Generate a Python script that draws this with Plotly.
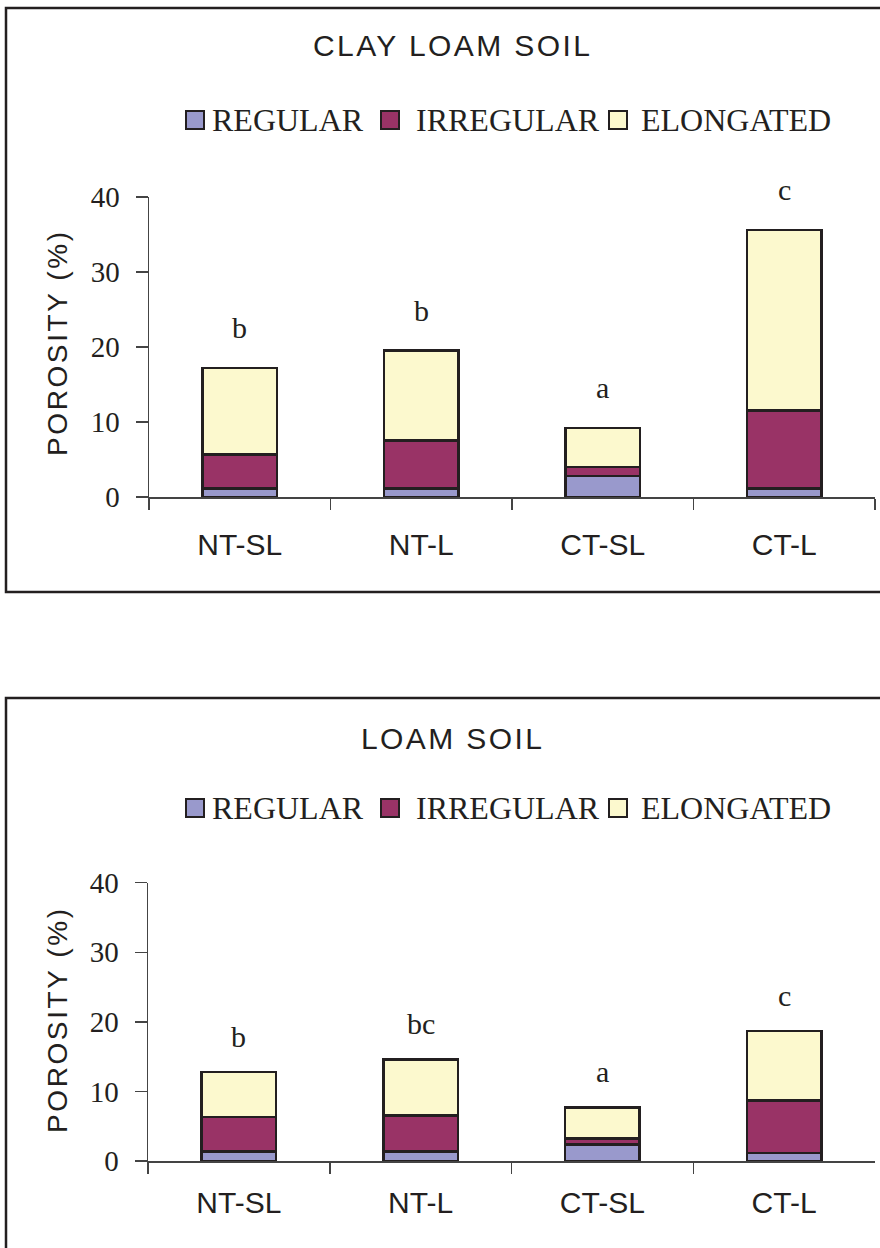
import plotly.graph_objects as go

W, H = 880, 1248

categories = ["NT-SL", "NT-L", "CT-SL", "CT-L"]
series_names = ["REGULAR", "IRREGULAR", "ELONGATED"]
series_colors = ["#9999CC", "#993366", "#FCF9CE"]

clay_regular = [1.1, 1.1, 2.8, 1.1]
clay_irregular = [4.6, 6.4, 1.2, 10.4]
clay_elongated = [11.5, 12.0, 5.2, 24.1]
clay_letters = ["b", "b", "a", "c"]

loam_regular = [1.4, 1.35, 2.4, 1.15]
loam_irregular = [4.9, 5.15, 0.8, 7.55]
loam_elongated = [6.5, 8.1, 4.5, 10.0]
loam_letters = ["b", "bc", "a", "c"]

panel_titles = ["CLAY LOAM SOIL", "LOAM SOIL"]
y_title = "POROSITY (%)"
y_ticks = [0, 10, 20, 30, 40]

SANS = "Liberation Sans Narrow, Arial Narrow, Liberation Sans, Arial, sans-serif"
SERIF = "Liberation Serif, Times New Roman, serif"
INK = "#231F20"


def px(x):
    return x / W


def py(y):
    return 1 - y / H


def spaced(text, sp):
    return f'<span style="letter-spacing:{sp}px">{text}</span>'


fig = go.Figure()

panels = [
    dict(series=[clay_regular, clay_irregular, clay_elongated], letters=clay_letters,
         xa="x", ya="y", top=8, bottom=592, title_y=46, legend_y=120,
         ytitle_y=343, letter_shift=22, tick_standoff=20),
    dict(series=[loam_regular, loam_irregular, loam_elongated], letters=loam_letters,
         xa="x2", ya="y2", top=698, bottom=1262, title_y=738, legend_y=808,
         ytitle_y=1020, letter_shift=17, tick_standoff=14),
]

annotations = []
shapes = []
for p_i, p in enumerate(panels):
    for s_i, vals in enumerate(p["series"]):
        fig.add_trace(go.Bar(
            x=categories, y=vals, name=series_names[s_i],
            marker=dict(color=series_colors[s_i], line=dict(color=INK, width=2.6)),
            width=0.41, xaxis=p["xa"], yaxis=p["ya"], showlegend=False,
        ))
    totals = [sum(v) for v in zip(*p["series"])]
    for c, t, lab in zip(categories, totals, p["letters"]):
        annotations.append(dict(
            x=c, y=t, xref=p["xa"], yref=p["ya"], text=lab, showarrow=False,
            yanchor="bottom", yshift=p["letter_shift"],
            font=dict(family=SERIF, size=30, color=INK),
        ))
    # panel title
    annotations.append(dict(
        x=px(452), y=py(p["title_y"]), xref="paper", yref="paper",
        text=spaced(panel_titles[p_i], 2.4), showarrow=False,
        xanchor="center", yanchor="middle",
        font=dict(family=SANS, size=30, color=INK),
    ))
    # y-axis title
    annotations.append(dict(
        x=px(57), y=py(p["ytitle_y"]), xref="paper", yref="paper",
        text=spaced(y_title, 2.6), showarrow=False, textangle=-90,
        xanchor="center", yanchor="middle",
        font=dict(family=SANS, size=28, color=INK),
    ))
    # legend drawn as boxes + labels
    sq_x = [186, 381, 609]
    txt_x = [210, 414, 639]
    ly = p["legend_y"]
    for s_i, name in enumerate(series_names):
        shapes.append(dict(
            type="rect", xref="paper", yref="paper",
            x0=px(sq_x[s_i]), x1=px(sq_x[s_i] + 18), y0=py(ly + 9), y1=py(ly - 9),
            fillcolor=series_colors[s_i], line=dict(color=INK, width=2),
        ))
        annotations.append(dict(
            x=px(txt_x[s_i]), y=py(ly), xref="paper", yref="paper",
            text=name, showarrow=False, xanchor="left", yanchor="middle",
            font=dict(family=SERIF, size=32, color=INK),
        ))
    # panel border
    shapes.append(dict(
        type="rect", xref="paper", yref="paper",
        x0=px(6), x1=px(890), y0=py(p["bottom"]), y1=py(p["top"]),
        line=dict(color=INK, width=2.5), fillcolor="rgba(0,0,0,0)",
    ))

axis_common_x = dict(
    range=[-0.5, 3.5], showline=True, linecolor="#444", linewidth=1.5,
    ticks="outside", tickson="boundaries", ticklen=11, tickwidth=1.5, tickcolor="#444",
    showgrid=False, zeroline=False, fixedrange=True, automargin=False,
    tickfont=dict(family=SANS, size=30, color=INK),
)
axis_common_y = dict(
    range=[0, 40], showline=True, linecolor="#444", linewidth=1.5,
    ticks="outside", ticklen=12, tickwidth=1.5, tickcolor="#444",
    tickvals=y_ticks, showgrid=False, zeroline=False, fixedrange=True, automargin=False,
    tickfont=dict(family=SERIF, size=29, color=INK), ticklabelstandoff=10,
)

fig.update_layout(
    width=W, height=H, margin=dict(l=0, r=0, t=0, b=0, pad=0, autoexpand=False),
    paper_bgcolor="white", plot_bgcolor="white",
    barmode="stack", showlegend=False, hovermode=False,
    xaxis=dict(axis_common_x, domain=[px(149), px(875)], anchor="y",
               ticklabelstandoff=panels[0]["tick_standoff"]),
    yaxis=dict(axis_common_y, domain=[py(497), py(197)], anchor="x"),
    xaxis2=dict(axis_common_x, domain=[px(148), px(875)], anchor="y2",
                ticklabelstandoff=panels[1]["tick_standoff"]),
    yaxis2=dict(axis_common_y, domain=[py(1161), py(882.7)], anchor="x2"),
    annotations=annotations, shapes=shapes,
)

fig.write_html(
    "out.html",
    config={"displayModeBar": False, "staticPlot": True},
    post_script="document.body.style.margin='0';document.body.style.overflow='hidden';",
)
